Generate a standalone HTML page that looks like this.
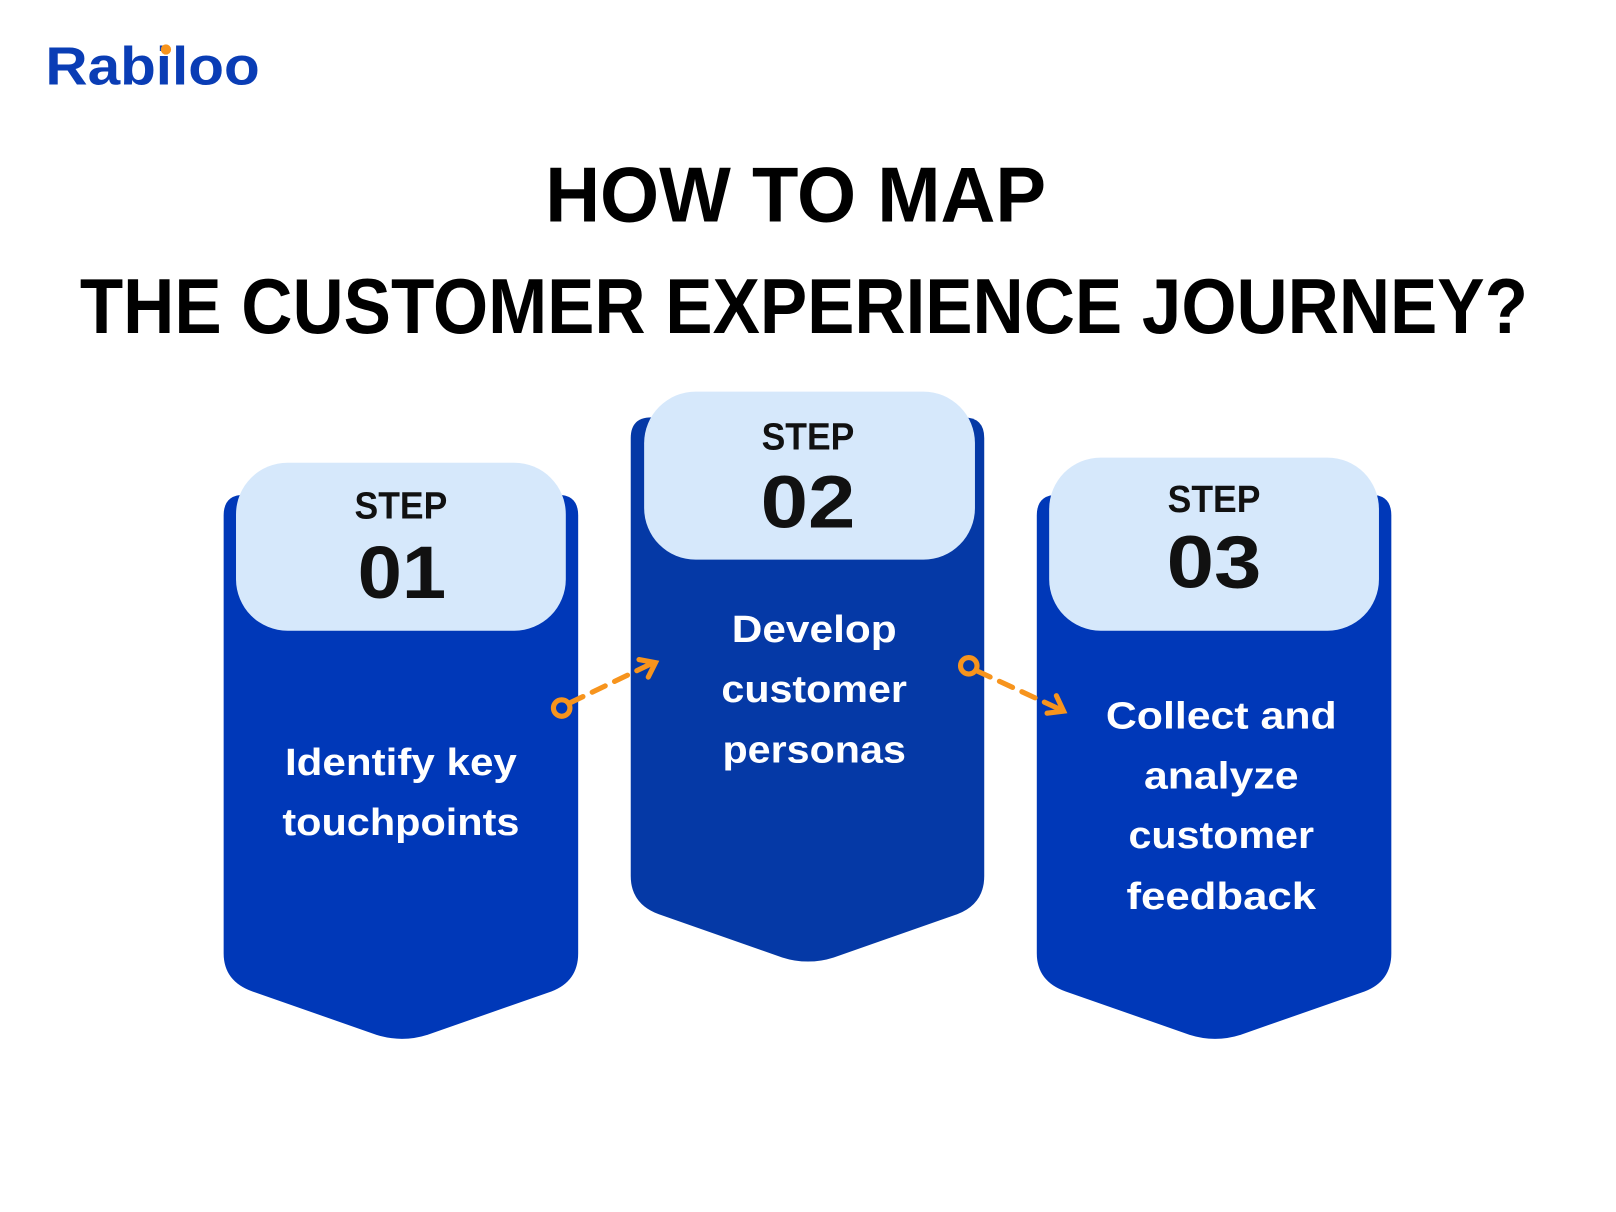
<!DOCTYPE html>
<html><head><meta charset="utf-8"><style>
html,body{margin:0;padding:0;background:#fff;}
svg{display:block;}
text{font-family:"Liberation Sans",sans-serif;font-weight:bold;}
</style></head><body>
<svg width="1616" height="1212" viewBox="0 0 1568 1176" preserveAspectRatio="none">
<rect width="1568" height="1176" fill="#fff"/>
<text x="44" y="82" font-size="52" fill="#0a3db5" textLength="208" lengthAdjust="spacingAndGlyphs">Rabiloo</text>
<circle cx="161" cy="48" r="5" fill="#f7941d"/>
<text x="772" y="215" font-size="76" fill="#000" text-anchor="middle" textLength="486" lengthAdjust="spacingAndGlyphs">HOW TO MAP</text>
<text x="780" y="323" font-size="76" fill="#000" text-anchor="middle" textLength="1405" lengthAdjust="spacingAndGlyphs">THE CUSTOMER EXPERIENCE JOURNEY?</text>

<!-- card 1 -->
<path d="M237,480 H541 Q561,480 561,500 V925 Q561,952 535,962 L415,1004 Q390,1012 365,1004 L245,962 Q217,952 217,925 V500 Q217,480 237,480 Z" fill="#0038b8"/>
<rect x="229" y="449" width="320" height="163" rx="50" fill="#d6e8fb"/>
<text x="389" y="503" font-size="37" fill="#111" text-anchor="middle" textLength="90" lengthAdjust="spacingAndGlyphs">STEP</text>
<text x="390" y="580" font-size="72" fill="#111" text-anchor="middle" textLength="86" lengthAdjust="spacingAndGlyphs">01</text>
<text x="389" y="752" font-size="37" fill="#fff" text-anchor="middle" textLength="225" lengthAdjust="spacingAndGlyphs">Identify key</text>
<text x="389" y="810" font-size="37" fill="#fff" text-anchor="middle" textLength="230" lengthAdjust="spacingAndGlyphs">touchpoints</text>

<!-- card 2 -->
<path d="M632,405 H935 Q955,405 955,425 V850 Q955,877 929,887 L809,929 Q784,937 759,929 L639,887 Q612,877 612,850 V425 Q612,405 632,405 Z" fill="#0539a6"/>
<rect x="625" y="380" width="321" height="163" rx="50" fill="#d6e8fb"/>
<text x="784" y="436" font-size="37" fill="#111" text-anchor="middle" textLength="90" lengthAdjust="spacingAndGlyphs">STEP</text>
<text x="784" y="512" font-size="72" fill="#111" text-anchor="middle" textLength="92" lengthAdjust="spacingAndGlyphs">02</text>
<text x="790" y="623" font-size="37" fill="#fff" text-anchor="middle" textLength="160" lengthAdjust="spacingAndGlyphs">Develop</text>
<text x="790" y="681" font-size="37" fill="#fff" text-anchor="middle" textLength="180" lengthAdjust="spacingAndGlyphs">customer</text>
<text x="790" y="740" font-size="37" fill="#fff" text-anchor="middle" textLength="178" lengthAdjust="spacingAndGlyphs">personas</text>

<!-- card 3 -->
<path d="M1026,480 H1330 Q1350,480 1350,500 V925 Q1350,952 1324,962 L1204,1004 Q1179,1012 1154,1004 L1034,962 Q1006,952 1006,925 V500 Q1006,480 1026,480 Z" fill="#0038b8"/>
<rect x="1018" y="444" width="320" height="168" rx="50" fill="#d6e8fb"/>
<text x="1178" y="497" font-size="37" fill="#111" text-anchor="middle" textLength="90" lengthAdjust="spacingAndGlyphs">STEP</text>
<text x="1178" y="570" font-size="72" fill="#111" text-anchor="middle" textLength="92" lengthAdjust="spacingAndGlyphs">03</text>
<text x="1185" y="707" font-size="37" fill="#fff" text-anchor="middle" textLength="224" lengthAdjust="spacingAndGlyphs">Collect and</text>
<text x="1185" y="765" font-size="37" fill="#fff" text-anchor="middle" textLength="150" lengthAdjust="spacingAndGlyphs">analyze</text>
<text x="1185" y="823" font-size="37" fill="#fff" text-anchor="middle" textLength="180" lengthAdjust="spacingAndGlyphs">customer</text>
<text x="1185" y="882" font-size="37" fill="#fff" text-anchor="middle" textLength="184" lengthAdjust="spacingAndGlyphs">feedback</text>

<!-- arrows -->
<g stroke="#f7941d" stroke-width="5" fill="none" stroke-linecap="round">
<circle cx="545" cy="687" r="8"/>
<path d="M553,682 L634,643" stroke-dasharray="14,10"/>
<path d="M620,640 L636,643 L629,657"/>
<circle cx="940" cy="646" r="8"/>
<path d="M948,651 L1030,689" stroke-dasharray="14,10"/>
<path d="M1025,675 L1032,690 L1016,692"/>
</g>
</svg>
</body></html>
